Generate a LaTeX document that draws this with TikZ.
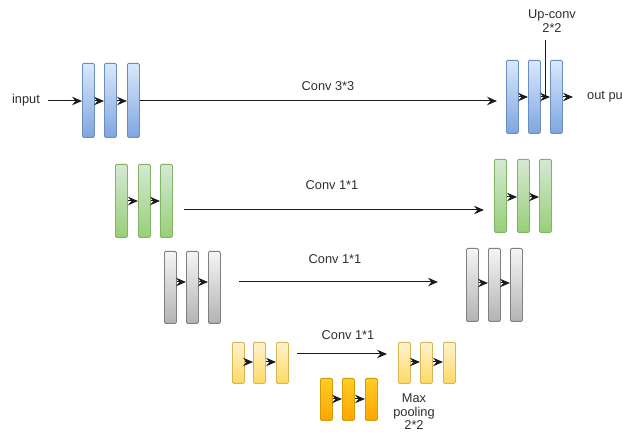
\documentclass[tikz,border=0pt]{standalone}
\usepackage{fontspec}
\setmainfont{Liberation Sans}
\usetikzlibrary{arrows.meta,calc}

\definecolor{txt}{HTML}{2E2E2E}
\definecolor{ln}{HTML}{1A1A1A}

\tikzset{
  bar/.style={rectangle, rounded corners=1.2pt, inner sep=0pt, minimum width=12pt, line width=0.8pt},
  blu/.style={bar, draw={rgb,255:red,108;green,142;blue,191}, top color={rgb,255:red,218;green,232;blue,252}, bottom color={rgb,255:red,126;green,166;blue,224}},
  grn/.style={bar, draw={rgb,255:red,130;green,179;blue,102}, top color={rgb,255:red,213;green,232;blue,212}, bottom color={rgb,255:red,151;green,208;blue,119}},
  gry/.style={bar, draw={rgb,255:red,128;green,128;blue,128}, top color={rgb,255:red,245;green,245;blue,245}, bottom color={rgb,255:red,179;green,179;blue,179}},
  ylw/.style={bar, draw={rgb,255:red,214;green,182;blue,86}, top color={rgb,255:red,255;green,242;blue,204}, bottom color={rgb,255:red,255;green,217;blue,102}},
  org/.style={bar, draw={rgb,255:red,215;green,155;blue,0}, top color={rgb,255:red,255;green,205;blue,40}, bottom color={rgb,255:red,255;green,165;blue,0}},
  conn/.style={draw=ln, line width=1pt, -{Stealth[length=10pt,width=8.5pt,inset=3.5pt]}},
  plain/.style={draw=ln, line width=1pt},
  lbl/.style={text=txt, font=\fontsize{12.8}{13.5}\selectfont, inner sep=0pt, align=center},
}

% three bars with arrows between them
% #1 name, #2 style, #3-#5 left edges, #6 top, #7 height, #8 arrow height
\newcommand\trio[8]{%
  \foreach \i/\xx in {1/#3,2/#4,3/#5}{%
    \node[#2, minimum height=#7pt, anchor=north west] (#1\i) at (\xx,#6) {};}
  \draw[conn] (#11.east |- 0,#8) -- (#12.west |- 0,#8);
  \draw[conn] (#12.east |- 0,#8) -- (#13.west |- 0,#8);
}

\begin{document}
\begin{tikzpicture}[x=1pt,y=-1pt]
\useasboundingbox (0,0) rectangle (622,435);

% encoder / decoder bar groups
\trio{la}{blu}{82}{104}{127}{63}{74}{101}
\trio{ra}{blu}{506}{528}{550}{60}{73}{97}
\trio{lb}{grn}{115}{138}{160}{164}{73}{201}
\trio{rb}{grn}{494}{517}{539}{159}{73}{197}
\trio{lc}{gry}{164}{186}{208}{251}{72}{282}
\trio{rc}{gry}{466}{488}{510}{248}{73}{283}
\trio{ld}{ylw}{232}{253}{276}{342}{41}{362}
\trio{rd}{ylw}{398}{420}{443}{342}{41}{362}
\trio{md}{org}{320}{342}{365}{378}{42}{399}

% labels
\node[lbl] (in) at (26,100) {input};
\node[lbl, anchor=west] (out) at (587,97) {out pu};
\node[lbl] (c3) at (328,86) {Conv 3*3};
\node[lbl] (c1b) at (332,185) {Conv 1*1};
\node[lbl] (c1c) at (335,259) {Conv 1*1};
\node[lbl] (c1d) at (348,335) {Conv 1*1};
\node[lbl] (up) at (552,21) {Up-conv\\2*2};
\node[lbl] (mp) at (414,412) {Max\\pooling\\2*2};

% input and output
\draw[conn, shorten <=8pt] (in.east |- 0,101) -- (la1.west |- 0,101);
\draw[conn, shorten >=14pt] (ra3.east |- 0,97) -- (out.west |- 0,97);

% skip connections
\draw[conn, shorten >=9pt] (la3.east |- 0,101) -- (ra1.west |- 0,101);
\draw[conn, shorten <=11pt, shorten >=10pt] (lb3.east |- 0,210) -- (rb1.west |- 0,210);
\draw[conn, shorten <=18pt, shorten >=28pt] (lc3.east |- 0,282) -- (rc1.west |- 0,282);
\draw[conn, shorten <=8pt, shorten >=11pt] (ld3.east |- 0,354) -- (rd1.west |- 0,354);

% up-convolution marker
\coordinate (upm) at ($(ra2.east)!0.5!(ra3.west)$);
\draw[plain] (upm |- 0,40) -- (upm |- 0,97);
\end{tikzpicture}
\end{document}
